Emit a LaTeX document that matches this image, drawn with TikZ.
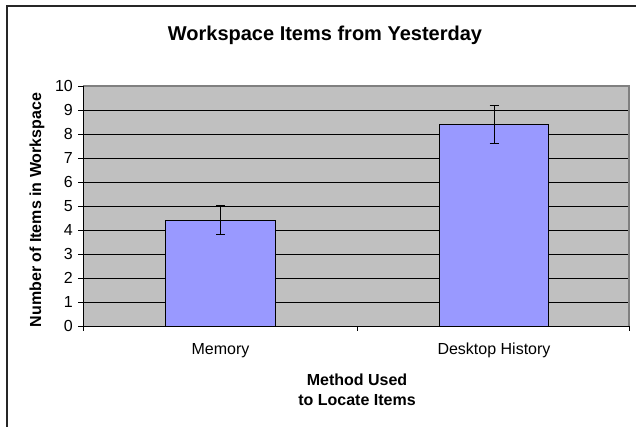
\documentclass[tikz,border=0pt]{standalone}
\usepackage{fontspec}
\setmainfont{Liberation Sans}
\definecolor{plotgray}{HTML}{C0C0C0}
\definecolor{barblue}{HTML}{9999FF}
\definecolor{edgegray}{HTML}{808080}
\begin{document}
\begin{tikzpicture}[x=1pt,y=-1pt,
  gridline/.style={black, line width=0.8pt},
  axisline/.style={black, line width=0.9pt},
  barbox/.style={draw=black, fill=barblue, line width=1pt},
  errbar/.style={black, line width=1pt},
  ticklbl/.style={font=\fontsize{16}{19}\selectfont, anchor=east, inner sep=0pt},
  catlbl/.style={font=\fontsize{16}{19}\selectfont, anchor=base, inner sep=0pt},
  axtitle/.style={font=\bfseries\fontsize{16}{19}\selectfont, inner sep=0pt},
  charttitle/.style={font=\bfseries\fontsize{20}{24}\selectfont, anchor=base, inner sep=0pt}]
\useasboundingbox (0,0) rectangle (636,427);
\fill[white] (0,0) rectangle (636,427);
% chart frame (left and top edges)
\draw[line width=1.6pt, black!85] (7,427) -- (7,6) -- (636,6);
% plot area with horizontal gridlines
\fill[plotgray] (83,86) rectangle (629,326);
\foreach \v in {1,...,9}
  \draw[gridline] (83,{326-24*\v}) -- (629,{326-24*\v});
\draw[edgegray, line width=1.2pt] (83,86) -- (629,86) -- (629,326);
% value axis with ticks and labels
\draw[axisline] (83,86) -- (83,331);
\foreach \v in {0,...,10} {
  \draw[axisline] (78,{326-24*\v}) -- (83,{326-24*\v});
  \node[ticklbl] (tick\v) at (73,{326-24*\v}) {\v};
}
% category axis with ticks
\draw[axisline] (83,326) -- (629,326);
\draw[axisline] (357,326) -- (357,331);
\draw[axisline] (629,326) -- (629,331);
% bars
\draw[barbox] (165.7,326) rectangle (275.3,{326-24*4.4});
\draw[barbox] (439.7,326) rectangle (548,{326-24*8.4});
% error bars
\draw[errbar] (220.5,{326-24*5.0}) -- (220.5,{326-24*3.8});
\draw[errbar] (216,{326-24*5.0}) -- (225,{326-24*5.0});
\draw[errbar] (216,{326-24*3.8}) -- (225,{326-24*3.8});
\draw[errbar] (494,{326-24*9.2}) -- (494,{326-24*7.6});
\draw[errbar] (489.5,{326-24*9.2}) -- (498.5,{326-24*9.2});
\draw[errbar] (489.5,{326-24*7.6}) -- (498.5,{326-24*7.6});
% texts
\node[charttitle] (title) at (325,41) {Workspace Items from Yesterday};
\node[catlbl] (memory) at (220.5,354) {Memory};
\node[catlbl] (desktop) at (494,354) {Desktop History};
\node[axtitle, anchor=base] (xtitleA) at (357,385.5) {Method Used};
\node[axtitle, anchor=base] (xtitleB) at (357,405) {to Locate Items};
\node[axtitle, rotate=90] (ytitle) at (37,210) {Number of Items in Workspace};
\end{tikzpicture}
\end{document}
